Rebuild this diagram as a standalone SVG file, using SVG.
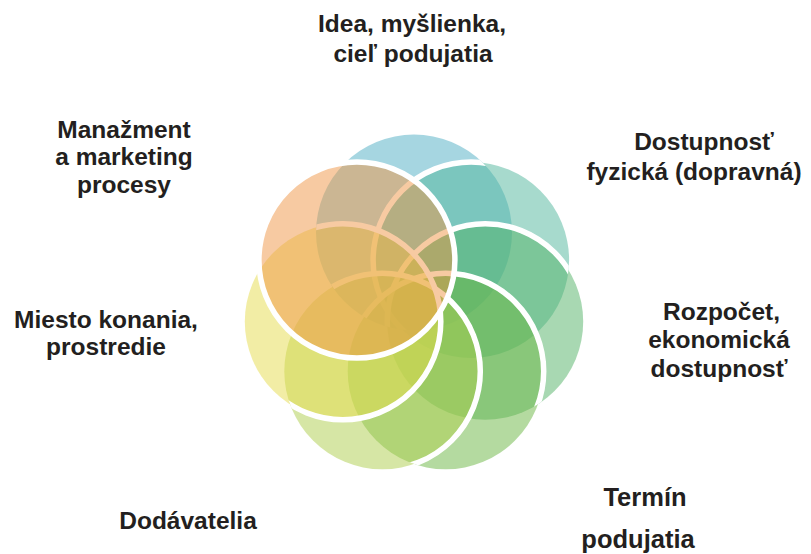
<svg xmlns="http://www.w3.org/2000/svg" width="811" height="554" viewBox="0 0 811 554">
<style>
  .fill { fill-opacity: 0.5; stroke: none; }
  .ring { fill: none; stroke: #ffffff; stroke-width: 5.5; }
  .lbl { font-family: "Liberation Sans", Arial, sans-serif; font-weight: bold; font-size: 24.5px; fill: #231F20; text-anchor: middle; }
</style>
<defs>
  <clipPath id="uA">
    <circle cx="414" cy="232.5" r="98"/>
  </clipPath>
  <clipPath id="uB">
    <circle cx="414" cy="232.5" r="98"/>
    <circle cx="471.1" cy="260" r="98"/>
  </clipPath>
  <clipPath id="uC">
    <circle cx="414" cy="232.5" r="98"/>
    <circle cx="471.1" cy="260" r="98"/>
    <circle cx="485.2" cy="321.7" r="98"/>
  </clipPath>
  <clipPath id="uD">
    <circle cx="414" cy="232.5" r="98"/>
    <circle cx="471.1" cy="260" r="98"/>
    <circle cx="485.2" cy="321.7" r="98"/>
    <circle cx="445.7" cy="371.3" r="98"/>
  </clipPath>
  <clipPath id="uE">
    <circle cx="414" cy="232.5" r="98"/>
    <circle cx="471.1" cy="260" r="98"/>
    <circle cx="485.2" cy="321.7" r="98"/>
    <circle cx="445.7" cy="371.3" r="98"/>
    <circle cx="382.3" cy="371.3" r="98"/>
  </clipPath>
</defs>

<g id="node-idea">
  <circle class="fill" cx="414" cy="232.5" r="98" fill="#4DADC3"/>
  <text class="lbl" x="412" y="32">Idea, myšlienka,</text>
  <text class="lbl" x="413" y="61.5">cieľ podujatia</text>
</g>

<g id="node-dostupnost">
  <circle class="fill" cx="471.1" cy="260" r="98" fill="#4FB59B"/>
  <circle class="ring" cx="471.1" cy="260" r="98" clip-path="url(#uA)"/>
  <text class="lbl" x="704" y="150">Dostupnosť</text>
  <text class="lbl" x="694" y="180">fyzická (dopravná)</text>
</g>

<g id="node-rozpocet">
  <circle class="fill" cx="485.2" cy="321.7" r="98" fill="#51B165"/>
  <circle class="ring" cx="485.2" cy="321.7" r="98" clip-path="url(#uB)"/>
  <text class="lbl" x="721.5" y="320">Rozpočet,</text>
  <text class="lbl" x="719" y="348">ekonomická</text>
  <text class="lbl" x="719" y="376.5">dostupnosť</text>
</g>

<g id="node-termin">
  <circle class="fill" cx="445.7" cy="371.3" r="98" fill="#69B541"/>
  <circle class="ring" cx="445.7" cy="371.3" r="98" clip-path="url(#uC)"/>
  <text class="lbl" x="645" y="506" style="font-size:25.5px">Termín</text>
  <text class="lbl" x="638" y="548" style="font-size:25.5px">podujatia</text>
</g>

<g id="node-dodavatelia">
  <circle class="fill" cx="382.3" cy="371.3" r="98" fill="#ADCD4B"/>
  <circle class="ring" cx="382.3" cy="371.3" r="98" clip-path="url(#uD)"/>
  <text class="lbl" x="188" y="529">Dodávatelia</text>
</g>

<g id="node-miesto">
  <circle class="fill" cx="342.8" cy="321.7" r="98" fill="#E5DB4B"/>
  <circle class="ring" cx="342.8" cy="321.7" r="98" clip-path="url(#uE)"/>
  <text class="lbl" x="106" y="327.5">Miesto konania,</text>
  <text class="lbl" x="106" y="354.5">prostredie</text>
</g>

<g id="node-manazment">
  <circle class="fill" cx="356.9" cy="260" r="98" fill="#EF9545"/>
  <circle class="ring" cx="356.9" cy="260" r="98"/>
  <text class="lbl" x="124" y="137.5">Manažment</text>
  <text class="lbl" x="124" y="165">a marketing</text>
  <text class="lbl" x="124" y="193">procesy</text>
</g>
</svg>
